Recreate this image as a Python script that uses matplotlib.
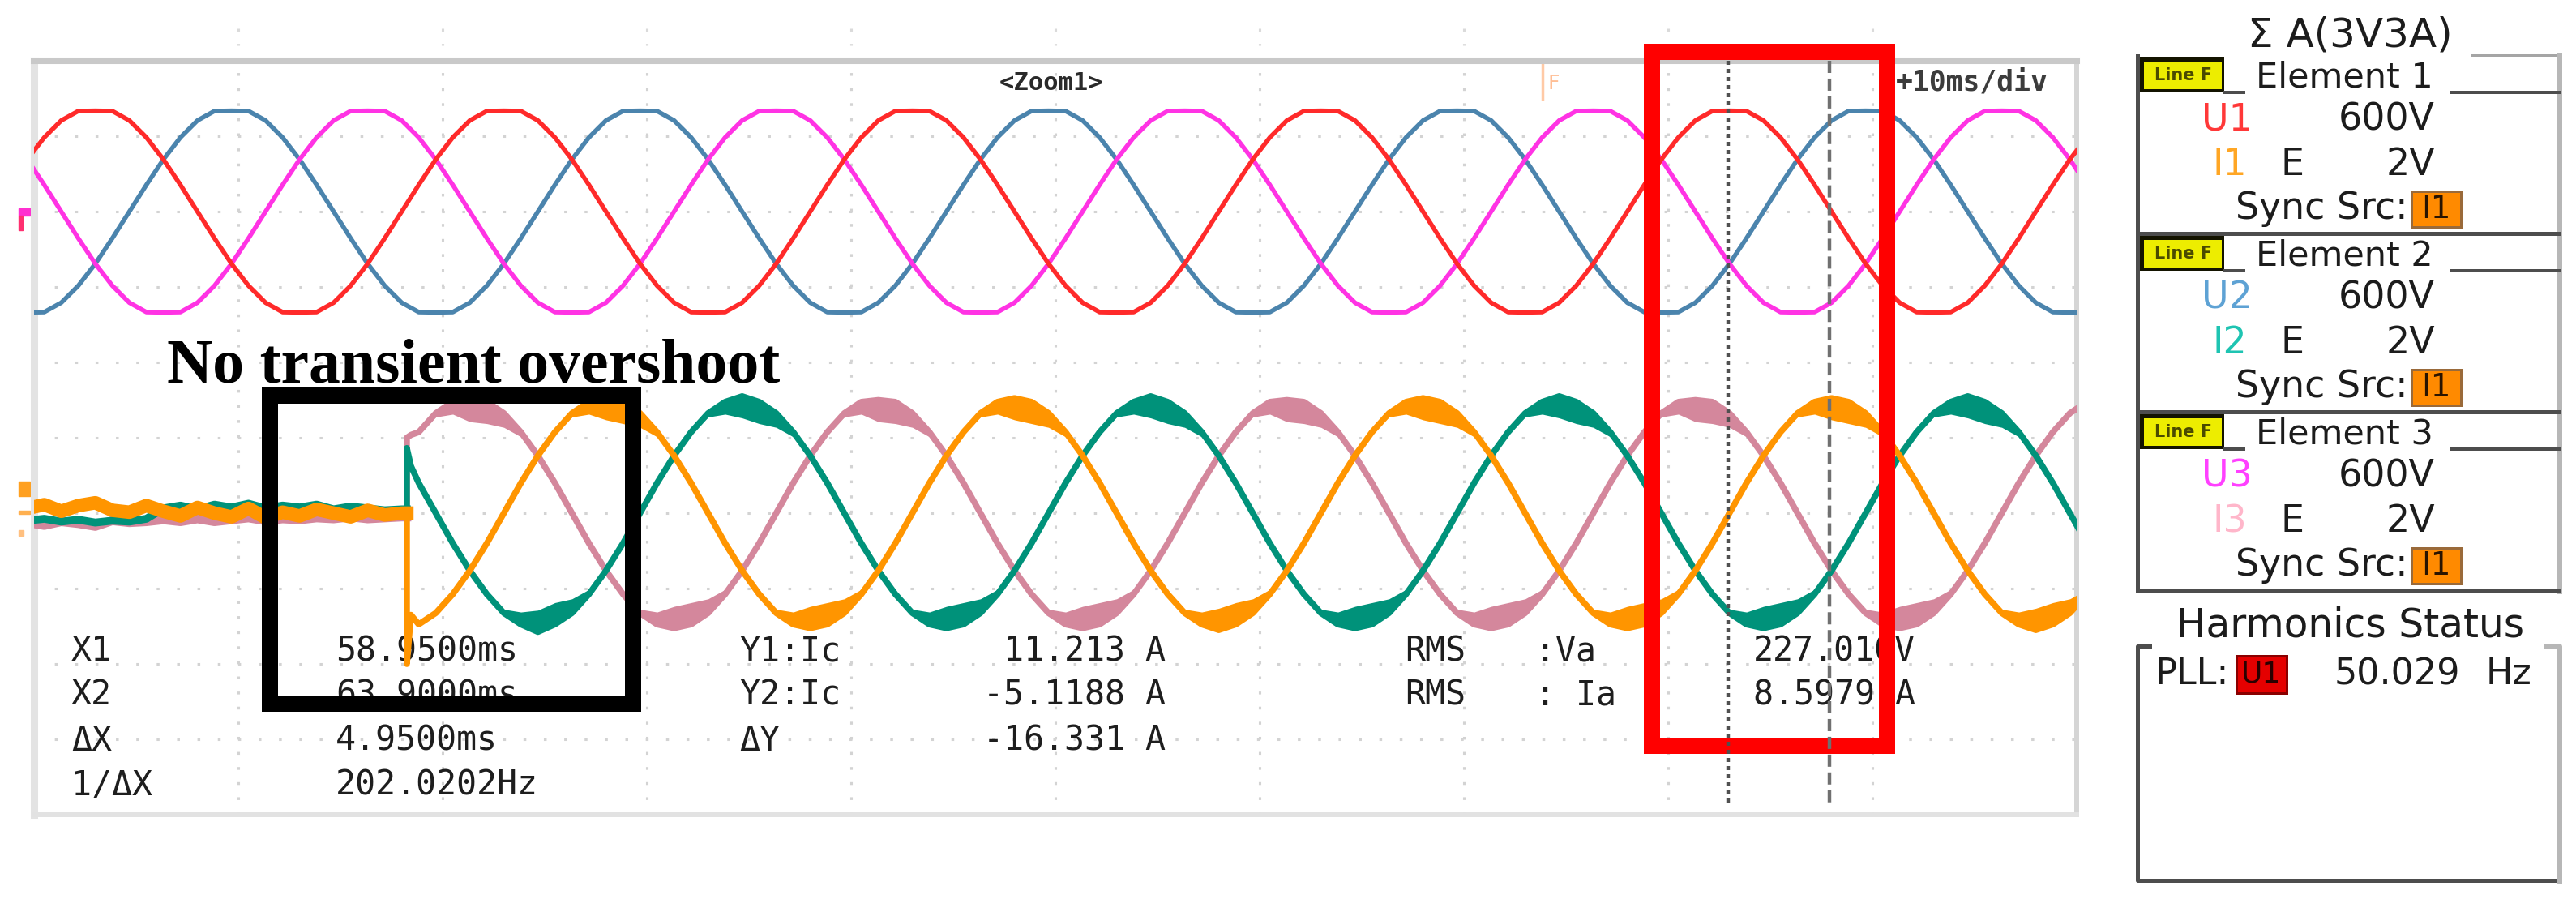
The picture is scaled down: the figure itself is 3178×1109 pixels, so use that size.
import numpy as np
import matplotlib
matplotlib.use('Agg')
import matplotlib.pyplot as plt
from matplotlib.patches import Rectangle

plt.rcParams['lines.scale_dashes'] = False

# sample clock of the captured traces: 24 samples per 20 ms mains cycle
t_ms = np.arange(122) * (20 / 24) - 1 / 3

# phase voltages [V] (tops slightly clipped on screen)
u1 = [166, 236, 290, 320, 321, 320, 290, 236, 166, 85, 0, -85, -166, -236, -290, -320, -321, -320, -290, -236, -166, -85, 0, 85,
      166, 236, 290, 320, 321, 320, 290, 236, 166, 85, 0, -85, -166, -236, -290, -320, -321, -320, -290, -236, -166, -85, 0, 85,
      166, 236, 290, 320, 321, 320, 290, 236, 166, 85, 0, -85, -166, -236, -290, -320, -321, -320, -290, -236, -166, -85, 0, 85,
      166, 236, 290, 320, 321, 320, 290, 236, 166, 85, 0, -85, -166, -236, -290, -320, -321, -320, -290, -236, -166, -85, 0, 85,
      166, 236, 290, 320, 321, 320, 290, 236, 166, 85, 0, -85, -166, -236, -290, -320, -321, -320, -290, -236, -166, -85, 0, 85,
      166, 236]
u2 = [-321, -320, -290, -236, -166, -85, 0, 85, 166, 236, 290, 320, 321, 320, 290, 236, 166, 85, 0, -85, -166, -236, -290, -320,
      -321, -320, -290, -236, -166, -85, 0, 85, 166, 236, 290, 320, 321, 320, 290, 236, 166, 85, 0, -85, -166, -236, -290, -320,
      -321, -320, -290, -236, -166, -85, 0, 85, 166, 236, 290, 320, 321, 320, 290, 236, 166, 85, 0, -85, -166, -236, -290, -320,
      -321, -320, -290, -236, -166, -85, 0, 85, 166, 236, 290, 320, 321, 320, 290, 236, 166, 85, 0, -85, -166, -236, -290, -320,
      -321, -320, -290, -236, -166, -85, 0, 85, 166, 236, 290, 320, 321, 320, 290, 236, 166, 85, 0, -85, -166, -236, -290, -320,
      -321, -320]
u3 = [166, 85, 0, -85, -166, -236, -290, -320, -321, -320, -290, -236, -166, -85, 0, 85, 166, 236, 290, 320, 321, 320, 290, 236,
      166, 85, 0, -85, -166, -236, -290, -320, -321, -320, -290, -236, -166, -85, 0, 85, 166, 236, 290, 320, 321, 320, 290, 236,
      166, 85, 0, -85, -166, -236, -290, -320, -321, -320, -290, -236, -166, -85, 0, 85, 166, 236, 290, 320, 321, 320, 290, 236,
      166, 85, 0, -85, -166, -236, -290, -320, -321, -320, -290, -236, -166, -85, 0, 85, 166, 236, 290, 320, 321, 320, 290, 236,
      166, 85, 0, -85, -166, -236, -290, -320, -321, -320, -290, -236, -166, -85, 0, 85, 166, 236, 290, 320, 321, 320, 290, 236,
      166, 85]

# phase currents [A]: noise before switch-on (first 23 samples), the step, then the load current
i1_off = [0.5, 0.9, 0.2, 0.8, 1.1, 0.3, 0.1, 0.8, 0.2, -0.3, 0.6, 0.0, -0.4, 0.5, -0.5, 0.1, -0.3, 0.4, 0.0, -0.4, 0.3, -0.2, 0.0]
i2_off = [-0.8, -0.6, -0.9, -0.7, -1.0, -0.8, -0.9, -0.6, 0.5, 0.8, 0.4, 0.9, 0.6, 1.0, 0.5, 0.8, 0.6, 0.9, 0.4, 0.7, 0.5, 0.3, 0.4]
i3_off = [-1.0, -1.3, -0.9, -1.1, -1.4, -0.8, -1.0, -0.9, -0.7, -0.9, -0.6, -0.9, -0.7, -0.5, -0.8, -0.6, -0.7, -0.5, -0.6, -0.4, -0.6, -0.5, -0.4]
t_step = [18.25, 18.25, 18.45]
i1_step = [0.0, -16.0, -10.8]
i2_step = [0.4, 6.9, 5.0]
i3_step = [-0.4, 8.0, 8.3]
i1_on = [-11.8, -10.6, -8.6, -6.1, -3.2, 0.0, 3.2, 6.1, 8.6, 10.6, 11.8, 12.2, 11.8, 10.6, 8.6, 6.1, 3.2, 0.0, -3.2, -6.1, -8.6, -10.6, -11.8, -12.2,
         -11.8, -10.6, -8.6, -6.1, -3.2, 0.0, 3.2, 6.1, 8.6, 10.6, 11.8, 12.2, 11.8, 10.6, 8.6, 6.1, 3.2, 0.0, -3.2, -6.1, -8.6, -10.6, -11.8, -12.4,
         -11.8, -10.6, -8.6, -6.1, -3.2, 0.0, 3.2, 6.1, 8.6, 10.6, 11.8, 12.2, 11.8, 10.6, 8.6, 6.1, 3.2, 0.0, -3.2, -6.1, -8.6, -10.6, -11.8, -12.2,
         -11.8, -10.6, -8.6, -6.1, -3.2, 0.0, 3.2, 6.1, 8.6, 10.6, 11.8, 12.2, 11.8, 10.6, 8.6, 6.1, 3.2, 0.0, -3.2, -6.1, -8.6, -10.6, -11.8, -12.4,
         -11.8, -10.6, -8.6]
i2_on = [3.2, 0.0, -3.2, -6.1, -8.6, -10.6, -11.8, -12.6, -11.8, -10.6, -8.6, -6.1, -3.2, 0.0, 3.2, 6.1, 8.6, 10.6, 11.8, 12.4, 11.8, 10.6, 8.6, 6.1,
         3.2, 0.0, -3.2, -6.1, -8.6, -10.6, -11.8, -12.2, -11.8, -10.6, -8.6, -6.1, -3.2, 0.0, 3.2, 6.1, 8.6, 10.6, 11.8, 12.4, 11.8, 10.6, 8.6, 6.1,
         3.2, 0.0, -3.2, -6.1, -8.6, -10.6, -11.8, -12.2, -11.8, -10.6, -8.6, -6.1, -3.2, 0.0, 3.2, 6.1, 8.6, 10.6, 11.8, 12.4, 11.8, 10.6, 8.6, 6.1,
         3.2, 0.0, -3.2, -6.1, -8.6, -10.6, -11.8, -12.2, -11.8, -10.6, -8.6, -6.1, -3.2, 0.0, 3.2, 6.1, 8.6, 10.6, 11.8, 12.4, 11.8, 10.6, 8.6, 6.1,
         3.2, 0.0, -3.2]
i3_on = [8.6, 10.6, 11.8, 12.0, 11.8, 10.6, 8.6, 6.1, 3.2, 0.0, -3.2, -6.1, -8.6, -10.6, -11.8, -12.2, -11.8, -10.6, -8.6, -6.1, -3.2, 0.0, 3.2, 6.1,
         8.6, 10.6, 11.8, 12.0, 11.8, 10.6, 8.6, 6.1, 3.2, 0.0, -3.2, -6.1, -8.6, -10.6, -11.8, -12.2, -11.8, -10.6, -8.6, -6.1, -3.2, 0.0, 3.2, 6.1,
         8.6, 10.6, 11.8, 12.0, 11.8, 10.6, 8.6, 6.1, 3.2, 0.0, -3.2, -6.1, -8.6, -10.6, -11.8, -12.2, -11.8, -10.6, -8.6, -6.1, -3.2, 0.0, 3.2, 6.1,
         8.6, 10.6, 11.8, 12.0, 11.8, 10.6, 8.6, 6.1, 3.2, 0.0, -3.2, -6.1, -8.6, -10.6, -11.8, -12.2, -11.8, -10.6, -8.6, -6.1, -3.2, 0.0, 3.2, 6.1,
         8.6, 10.6, 11.8]
# switching ripple seen inside every current peak, samples -2..+3 around it [A]
ripple = [0.4, 1.3, 2.3, 2.3, 1.5, 0.5]

# cursor and measurement readouts
x1_ms, x2_ms = 58.9500, 63.9000
y1_a, y2_a, dy_a = 11.213, -5.1188, -16.331
rms_va, rms_ia = 227.010, 8.5979
pll_hz = 50.029

# channel setup panel
elements = ['Element 1', 'Element 2', 'Element 3']
u_names = ['U1', 'U2', 'U3']
i_names = ['I1', 'I2', 'I3']
u_range, i_range, sync_src = '600V', '2V', 'I1'

# screen settings
v_div, a_div = 240, 8          # V/div and A/div
cursor1 = 82.95                # screen position of X1 [ms]

u_colors = ['#ff2a2a', '#4b84ad', '#ff33e4']
i_colors = ['#ff9500', '#00927a', '#d4879c']
u_text = ['#ff3838', '#5ea2d4', '#ff40ff']
i_text = ['#ffa624', '#1ec4b2', '#ffb6ca']

W, H = 3178, 1109
px = 0.72
fig = plt.figure(figsize=(W / 100, H / 100), dpi=100)
scr = [42 / W, 1 - 1005 / H, 2520 / W, 930 / H]

# screen: grid, frame, readouts (ms across, divisions down)
ax = fig.add_axes(scr)
ax.set_xlim(0, 100)
ax.set_ylim(10, 0)
ax.set_xticks(np.arange(10, 100, 10))
ax.set_yticks(np.arange(1, 10))
ax.tick_params(length=0, labelbottom=False, labelleft=False)
ax.xaxis.grid(True, color='#d3d3d3', lw=2.2, ls=(0, (2.5, 10.9)))
ax.yaxis.grid(True, color='#d3d3d3', lw=2.2, ls=(0, (2.5, 15.6)))
for side, c, w in [('top', '#c9c9c9', 5.8), ('left', '#e3e3e3', 6.5),
                   ('right', '#d5d5d5', 4.3), ('bottom', '#e2e2e2', 4.3)]:
    ax.spines[side].set_color(c)
    ax.spines[side].set_linewidth(w)
for xv in range(10, 100, 10):
    ax.plot([xv, xv], [-0.43, -0.2], color='#dadada', lw=2.2, ls=(0, (2.5, 10.9)), clip_on=False)

# channel zero markers left of the screen
ax.add_patch(Rectangle((-0.75, 1.96), 0.55, 0.09, color='#ff30d0', clip_on=False))
ax.add_patch(Rectangle((-0.75, 2.05), 0.2, 0.2, color='#ff3070', clip_on=False))
ax.add_patch(Rectangle((-0.75, 5.58), 0.55, 0.19, color='#ffa020', clip_on=False))
ax.add_patch(Rectangle((-0.75, 5.97), 0.55, 0.04, color='#ffb050', clip_on=False))
ax.add_patch(Rectangle((-0.75, 6.23), 0.25, 0.07, color='#ffc080', clip_on=False))

mono = dict(family='DejaVu Sans Mono', fontsize=30, color='#1e1e1e', va='center')
rows = [7.83, 8.41, 9.02, 9.61]
dx = x2_ms - x1_ms
for y, a, b in zip(rows, ['X1', 'X2', 'ΔX', '1/ΔX'],
                   [f'{x1_ms:.4f}ms', f'{x2_ms:.4f}ms', f'{dx:.4f}ms', f'{1000 / dx:.4f}Hz']):
    ax.text(1.83, y, a, **mono)
    ax.text(14.76, y, b, **mono)
for y, a, b in zip(rows, ['Y1:Ic', 'Y2:Ic', 'ΔY'], [y1_a, y2_a, dy_a]):
    ax.text(34.52, y, a, **mono)
    ax.text(55.4, y, f'{b:g} A', ha='right', **mono)
ax.text(67.1, rows[0], 'RMS', **mono)
ax.text(73.5, rows[0], ':Va', **mono)
ax.text(67.1, rows[1], 'RMS', **mono)
ax.text(73.5, rows[1], ': Ia', **mono)
ax.text(84.17, rows[0], f'{rms_va:.3f}V', **mono)
ax.text(84.17, rows[1], f'{rms_ia:.4f} A', **mono)
ax.text(49.8, 0.3, '<Zoom1>', family='DejaVu Sans Mono', fontsize=22, weight='bold',
        color='#2a2a2a', ha='center', va='center')
ax.text(98.6, 0.29, '+10ms/div', family='DejaVu Sans Mono', fontsize=25, weight='bold',
        color='#3c3c3c', ha='right', va='center')
ax.plot([73.85, 73.85], [0.0, 0.5], color='#ffcaa6', lw=2.5)
ax.text(74.4, 0.3, 'F', fontsize=18, color='#ffbf96', ha='center', va='center')

# voltage traces
axv = fig.add_axes(scr, sharex=ax)
axv.set_ylim(-8 * v_div, 2 * v_div)
axv.set_axis_off()
for u, c in zip([u2, u3, u1], [u_colors[1], u_colors[2], u_colors[0]]):
    axv.plot(t_ms, u, color=c, lw=4.0, solid_joinstyle='round')

# current traces
axi = fig.add_axes(scr, sharex=ax)
axi.set_ylim(-4 * a_div, 6 * a_div)
axi.set_axis_off()
t_on = t_ms[23:]
for off, step, on, c, lw0 in [(i3_off, i3_step, i3_on, i_colors[2], 8),
                              (i2_off, i2_step, i2_on, i_colors[1], 7),
                              (i1_off, i1_step, i1_on, i_colors[0], 12)]:
    axi.plot(np.r_[t_ms[:23], t_step[0]], np.r_[off, step[0]], color=c, lw=lw0)
    axi.plot(np.r_[t_step, t_on], np.r_[step, on], color=c, lw=5.5, solid_joinstyle='round')
    on = np.array(on)
    band = np.zeros(len(on))
    for p in range(1, len(on) - 1):
        if abs(on[p]) > abs(on[p - 1]) and abs(on[p]) >= abs(on[p + 1]):
            for o, r in zip(range(-2, 4), ripple):
                if 0 <= p + o < len(on):
                    band[p + o] = max(band[p + o], r)
    axi.fill_between(t_on, on, on - np.sign(on) * band, color=c, lw=0)

# overlay: cursors and the annotation boxes
axo = fig.add_axes(scr, sharex=ax)
axo.set_ylim(10, 0)
axo.set_axis_off()
axo.plot([cursor1] * 2, [0, 9.9], color='#505050', lw=3.2, ls=(0, (3.6, 3.6)))
axo.plot([cursor1 + dx] * 2, [0, 9.9], color='#707070', lw=3.2, ls=(0, (10.8, 5)))
axo.add_patch(Rectangle((79.2, -0.12), 11.5, 9.21, fill=False, ec='#ff0000', lw=14.4,
                        joinstyle='miter', clip_on=False))
axo.add_patch(Rectangle((11.55, 4.44), 17.78, 4.09, fill=False, ec='black', lw=14.4,
                        joinstyle='miter', clip_on=False))
axo.text(21.5, 4.27, 'No transient overshoot', family='Liberation Serif', weight='bold',
         fontsize=56, ha='center', va='baseline', color='black')

# right-hand setup panel (figure pixels)
pan = fig.add_axes([0, 0, 1, 1])
pan.set_xlim(0, W)
pan.set_ylim(H, 0)
pan.set_axis_off()
dark, light, ink = '#4d4d4d', '#b7b7b7', '#1c1c1c'
sans = dict(family='DejaVu Sans', color=ink, va='center')

pan.text(2899, 43, 'Σ A(3V3A)', ha='center', fontsize=36, **sans)
pan.plot([3050, 3157], [68, 68], color='#a5a5a5', lw=4 * px)
pan.plot([2637, 2637], [68, 729], color=dark, lw=5 * px)
pan.plot([3157, 3157], [68, 729], color=light, lw=7 * px)
pan.plot([2637, 3157], [729, 729], color=dark, lw=5 * px)
for n in range(3):
    top = 68 + 220 * n
    if n:
        pan.plot([2637, 3157], [top, top], color=dark, lw=5 * px)
    pan.add_patch(Rectangle((2637, top + 2), 107, 44, fc='#141400', ec='none'))
    pan.add_patch(Rectangle((2645, top + 8), 96, 34, fc='#eded00', ec='none'))
    pan.text(2693, top + 25, 'Line F', ha='center', va='center', fontsize=15,
             weight='bold', color='#4a4a00', family='DejaVu Sans')
    pan.plot([2744, 2768], [top + 46] * 2, color=dark, lw=4 * px)
    pan.plot([3025, 3157], [top + 46] * 2, color=dark, lw=4 * px)
    pan.text(2783, top + 27, elements[n], fontsize=31, **sans)
    pan.text(2716, top + 80, u_names[n], fontsize=33, family='DejaVu Sans',
             color=u_text[n], va='center')
    pan.text(3004, top + 80, u_range, ha='right', fontsize=33, **sans)
    pan.text(2729, top + 136, i_names[n], fontsize=33, family='DejaVu Sans',
             color=i_text[n], va='center')
    pan.text(2814, top + 136, 'E', fontsize=33, **sans)
    pan.text(3004, top + 136, i_range, ha='right', fontsize=33, **sans)
    pan.text(2971, top + 190, 'Sync Src:', ha='right', fontsize=33, **sans)
    pan.add_patch(Rectangle((2975, top + 168), 61, 44, fc='#ff8a00', ec='#9a6a3a', lw=3 * px))
    pan.text(3005, top + 190, sync_src, ha='center', va='center', fontsize=28,
             color='#2a1400', family='DejaVu Sans')

pan.text(2900, 772, 'Harmonics Status', ha='center', fontsize=35, **sans)
pan.plot([2652, 2637, 2637, 3157], [797, 797, 1086, 1086], color=dark, lw=5 * px)
pan.plot([3142, 3157, 3157], [797, 797, 1086], color=light, lw=7 * px)
pan.text(2659, 832, 'PLL:', fontsize=32, **sans)
pan.add_patch(Rectangle((2759, 809), 62, 46, fc='#e40000', ec='#8a0000', lw=3 * px))
pan.text(2790, 832, 'U1', ha='center', va='center', fontsize=26, color='#2a0000', family='DejaVu Sans')
pan.text(2880, 832, f'{pll_hz:.3f}', fontsize=32, **sans)
pan.text(3067, 832, 'Hz', fontsize=32, **sans)

fig.savefig('out.png', dpi=100)
